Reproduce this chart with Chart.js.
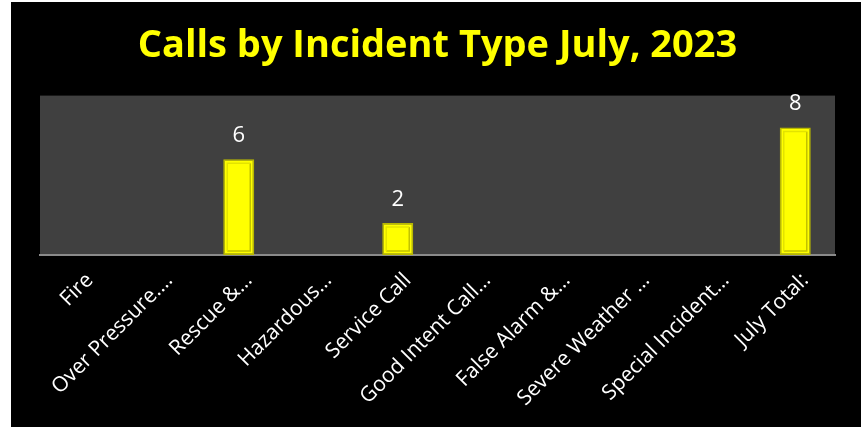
<!DOCTYPE html>
<html lang="en">
<head>
    <meta charset="UTF-8">
    <title>Calls by Incident Type</title>
    <script src="https://cdn.jsdelivr.net/npm/chart.js"></script>
    <style>
        html, body { margin: 0; padding: 0; background: #ffffff; }
        .box {
            position: absolute;
            left: 11px;
            top: 2px;
            width: 850px;
            height: 425px;
            background: #000000;
        }
    </style>
</head>
<body>
    <div class="box">
        <canvas id="myChart"></canvas>
    </div>

<script>
    // categorias e valores
    const tipos = [
        'Fire',
        'Over Pressure.\u2026',
        'Rescue &\u2026',
        'Hazardous\u2026',
        'Service Call',
        'Good Intent Call\u2026',
        'False Alarm &\u2026',
        'Severe Weather \u2026',
        'Special Incident\u2026',
        'July Total:'
    ];
    const chamadas = [0, 0, 6, 0, 2, 0, 0, 0, 0, 8];
    const escalaMax = 10;

    // fundo cinza da area do grafico
    const fundoPlot = {
        id: 'fundoPlot',
        beforeDraw(chart) {
            const a = chart.chartArea;
            const ctx = chart.ctx;
            ctx.save();
            ctx.fillStyle = '#404040';
            ctx.fillRect(a.left, a.top, a.right - a.left, a.bottom - a.top);
            ctx.restore();
        }
    };

    // efeito chanfrado nas barras + rotulos de valor
    const barrasEfeito = {
        id: 'barrasEfeito',
        afterDatasetsDraw(chart) {
            const ctx = chart.ctx;
            const meta = chart.getDatasetMeta(0);
            ctx.save();
            meta.data.forEach(function (bar, i) {
                const v = chamadas[i];
                if (!v) return;
                const w = bar.width;
                const l = bar.x - w / 2;
                const r = bar.x + w / 2;
                const t = bar.y;
                const b = bar.base;
                const k = 4;
                // sombra interna (direita/baixo)
                ctx.lineWidth = 1.5;
                ctx.strokeStyle = '#c2c200';
                ctx.beginPath();
                ctx.moveTo(r - k, t + k);
                ctx.lineTo(r - k, b - k);
                ctx.lineTo(l + k, b - k);
                ctx.stroke();
                // luz interna (esquerda/cima)
                ctx.strokeStyle = '#e3e300';
                ctx.beginPath();
                ctx.moveTo(l + k, b - k);
                ctx.lineTo(l + k, t + k);
                ctx.lineTo(r - k, t + k);
                ctx.stroke();
                // rotulo
                ctx.fillStyle = '#ffffff';
                ctx.font = '22px "Open Sans"';
                ctx.textAlign = 'center';
                ctx.textBaseline = 'alphabetic';
                ctx.fillText(String(v), bar.x, t - 17);
            });
            ctx.restore();
        }
    };

    const data = {
        labels: tipos,
        datasets: [{
            label: 'Calls',
            data: chamadas,
            backgroundColor: '#ffff00',
            borderColor: '#b8b800',
            borderWidth: 1.5,
            borderSkipped: false,
            barPercentage: 0.39,
            categoryPercentage: 1.0
        }]
    };

    const config = {
        type: 'bar',
        data: data,
        plugins: [fundoPlot, barrasEfeito],
        options: {
            responsive: true,
            maintainAspectRatio: false,
            animation: false,
            layout: {
                padding: { left: 29, right: 26, top: 0, bottom: 0 }
            },
            plugins: {
                legend: { display: false },
                tooltip: { enabled: false },
                title: {
                    display: true,
                    text: 'Calls by Incident Type July, 2023',
                    color: '#ffff00',
                    font: { family: '"Open Sans"', size: 38, weight: 'bold', lineHeight: 1.2 },
                    padding: { top: 21, bottom: 27 }
                }
            },
            scales: {
                x: {
                    grid: { display: false },
                    border: { display: true, color: '#8a8a8a', width: 2 },
                    ticks: {
                        color: '#ffffff',
                        font: { family: '"Open Sans"', size: 21 },
                        minRotation: 45,
                        maxRotation: 45,
                        autoSkip: false,
                        padding: 5,
                        labelOffset: 10
                    },
                    afterFit(scale) {
                        scale.height = 172;
                    }
                },
                y: {
                    display: false,
                    min: 0,
                    max: escalaMax
                }
            }
        }
    };

    const myChart = new Chart(document.getElementById('myChart'), config);
</script>
</body>
</html>
